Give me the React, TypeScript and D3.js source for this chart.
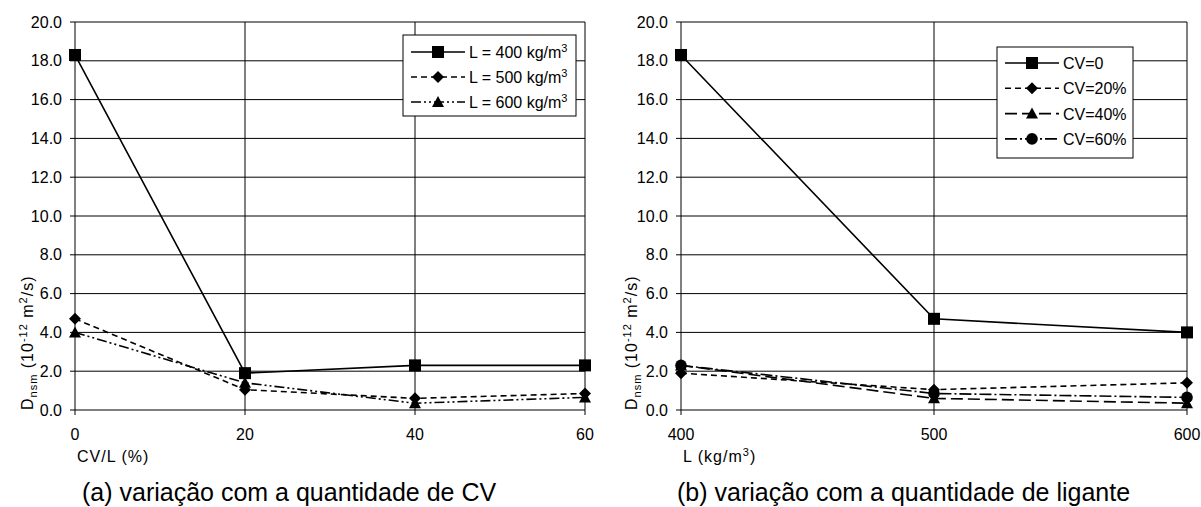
import React from "react";
import * as d3 from "d3";

// Chloride migration coefficient D_nsm (10^-12 m²/s)
const cvLevels = [0, 20, 40, 60]; // CV/L (%)
const binderLevels = [400, 500, 600]; // L (kg/m³)

const seriesL400 = [18.3, 1.9, 2.3, 2.3];
const seriesL500 = [4.7, 1.05, 0.6, 0.85];
const seriesL600 = [4.0, 1.4, 0.35, 0.65];

const seriesCV0 = [18.3, 4.7, 4.0];
const seriesCV20 = [1.9, 1.05, 1.4];
const seriesCV40 = [2.3, 0.6, 0.35];
const seriesCV60 = [2.3, 0.85, 0.65];

const yTicks = [0, 2, 4, 6, 8, 10, 12, 14, 16, 18, 20];

const FONT = "'Liberation Sans', Arial, Helvetica, sans-serif";

type MarkerType = "square" | "diamond" | "triangle" | "circle";

function Marker({ type, x, y }: { type: MarkerType; x: number; y: number }) {
  if (type === "square") return <rect x={x - 6} y={y - 6} width={12} height={12} fill="#000" />;
  if (type === "diamond")
    return <path d={`M${x},${y - 6}L${x + 6},${y}L${x},${y + 6}L${x - 6},${y}Z`} fill="#000" />;
  if (type === "triangle")
    return <path d={`M${x},${y - 6}L${x + 6},${y + 5}L${x - 6},${y + 5}Z`} fill="#000" />;
  return <circle cx={x} cy={y} r={5.8} fill="#000" />;
}

type Series = { values: number[]; marker: MarkerType; dash?: string; label: React.ReactNode };

type PanelProps = {
  x0: number;
  x1: number;
  xs: number[];
  series: Series[];
  legend: { x: number; y: number; w: number; h: number; row0: number; gap: number };
  yLabelX: number;
  xLabel: React.ReactNode;
  caption: string;
  captionX: number;
};

const Y0 = 410;
const Y1 = 22;

function Panel({ x0, x1, xs, series, legend, yLabelX, xLabel, caption, captionX }: PanelProps) {
  const x = d3.scaleLinear().domain([xs[0], xs[xs.length - 1]]).range([x0, x1]);
  const y = d3.scaleLinear().domain([0, 20]).range([Y0, Y1]);
  const line = d3
    .line<[number, number]>()
    .x((d) => x(d[0]))
    .y((d) => y(d[1]));

  return (
    <g fontFamily={FONT} fill="#000">
      {/* horizontal gridlines */}
      {yTicks.slice(1).map((t) => (
        <line key={"h" + t} x1={x0} x2={x1} y1={y(t)} y2={y(t)} stroke="#000" strokeWidth={1} />
      ))}
      {/* vertical gridlines */}
      {xs.slice(1).map((t) => (
        <line key={"v" + t} x1={x(t)} x2={x(t)} y1={Y1} y2={Y0} stroke="#000" strokeWidth={1} />
      ))}
      {/* axes */}
      <line x1={x0} x2={x0} y1={Y1} y2={Y0} stroke="#000" strokeWidth={1} />
      <line x1={x0} x2={x1} y1={Y0} y2={Y0} stroke="#000" strokeWidth={1} />
      {yTicks.map((t) => (
        <g key={"yt" + t}>
          <line x1={x0 - 5} x2={x0} y1={y(t)} y2={y(t)} stroke="#000" />
          <text x={x0 - 13} y={y(t) + 5.5} fontSize={16} textAnchor="end">
            {t.toFixed(1)}
          </text>
        </g>
      ))}
      {xs.map((t) => (
        <g key={"xt" + t}>
          <line x1={x(t)} x2={x(t)} y1={Y0} y2={Y0 + 5} stroke="#000" />
          <text x={x(t)} y={440} fontSize={16} textAnchor="middle">
            {t}
          </text>
        </g>
      ))}

      {/* data */}
      {series.map((s, i) => (
        <g key={"s" + i}>
          <path
            d={line(s.values.map((v, j) => [xs[j], v] as [number, number])) || ""}
            fill="none"
            stroke="#000"
            strokeWidth={1.6}
            strokeDasharray={s.dash}
          />
          {s.values.map((v, j) => (
            <Marker key={j} type={s.marker} x={x(xs[j])} y={y(v)} />
          ))}
        </g>
      ))}

      {/* legend */}
      <rect x={legend.x} y={legend.y} width={legend.w} height={legend.h} fill="#fff" stroke="#000" strokeWidth={1} />
      {series.map((s, i) => {
        const ry = legend.row0 + i * legend.gap;
        const lx = legend.x + 8;
        return (
          <g key={"l" + i}>
            <line x1={lx} x2={lx + 54} y1={ry} y2={ry} stroke="#000" strokeWidth={1.6} strokeDasharray={s.dash} />
            <Marker type={s.marker} x={lx + 27} y={ry} />
            <text x={lx + 58} y={ry + 6} fontSize={16}>
              {s.label}
            </text>
          </g>
        );
      })}

      {/* axis titles */}
      <text transform={`translate(${yLabelX},${Y0}) rotate(-90)`} fontSize={16} letterSpacing={1}>
        D
        <tspan fontSize={11} dy={4}>nsm</tspan>
        <tspan dy={-4}> (10</tspan>
        <tspan fontSize={11} dy={-6}>-12</tspan>
        <tspan dy={6}> m</tspan>
        <tspan fontSize={11} dy={-6}>2</tspan>
        <tspan dy={6}>/s)</tspan>
      </text>
      <text x={x0 + 2} y={462} fontSize={16} letterSpacing={1}>
        {xLabel}
      </text>
      <text x={captionX} y={501} fontSize={25}>
        {caption}
      </text>
    </g>
  );
}

export default function App() {
  const sup = (s: string) => (
    <tspan fontSize={11} dy={-6}>
      {s}
    </tspan>
  );
  const leftSeries: Series[] = [
    { values: seriesL400, marker: "square", label: <>L = 400 kg/m{sup("3")}</> },
    { values: seriesL500, marker: "diamond", dash: "6,4", label: <>L = 500 kg/m{sup("3")}</> },
    { values: seriesL600, marker: "triangle", dash: "10,3,2,3,2,3", label: <>L = 600 kg/m{sup("3")}</> },
  ];
  const rightSeries: Series[] = [
    { values: seriesCV0, marker: "square", label: "CV=0" },
    { values: seriesCV20, marker: "diamond", dash: "6,4", label: "CV=20%" },
    { values: seriesCV40, marker: "triangle", dash: "12,5", label: "CV=40%" },
    { values: seriesCV60, marker: "circle", dash: "12,3,2,3", label: "CV=60%" },
  ];
  return (
    <svg
      width={1201}
      height={507}
      style={{ position: "absolute", left: 0, top: 0, background: "#fff" }}
    >
      <rect width={1201} height={507} fill="#fff" />
      <Panel
        x0={75}
        x1={585}
        xs={cvLevels}
        series={leftSeries}
        legend={{ x: 403, y: 35, w: 173, h: 81, row0: 52, gap: 25 }}
        yLabelX={33}
        xLabel="CV/L (%)"
        caption="(a) variação com a quantidade de CV"
        captionX={82}
      />
      <Panel
        x0={681}
        x1={1187}
        xs={binderLevels}
        series={rightSeries}
        legend={{ x: 997, y: 47, w: 136, h: 111, row0: 63, gap: 25.3 }}
        yLabelX={637}
        xLabel={<>L (kg/m{sup("3")}<tspan dy={6}>)</tspan></>}
        caption="(b) variação com a quantidade de ligante"
        captionX={677}
      />
    </svg>
  );
}
